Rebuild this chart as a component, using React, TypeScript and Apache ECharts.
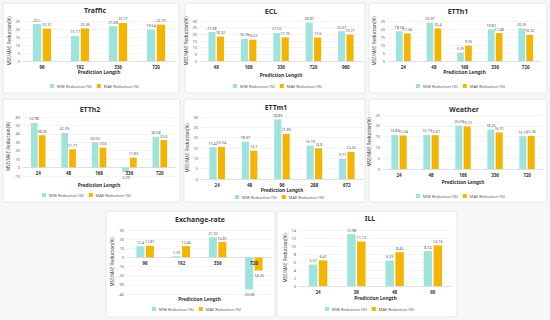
import React, { useEffect, useRef } from 'react';
import * as echarts from 'echarts';

const MSE_NAME = 'MSE Reduction (%)';
const MAE_NAME = 'MAE Reduction (%)';
const X_NAME = 'Prediction Length';
const Y_NAME = 'MSE/MAE Reduction(%)';

const trafficCategories = ['96', '192', '336', '720'];
const trafficMSE = [23.1, 15.77, 21.68, 19.64];
const trafficMAE = [20.31, 20.36, 23.77, 22.73];

const eclCategories = ['48', '168', '336', '720', '960'];
const eclMSE = [21.68, 16.76, 21.02, 28.87, 22.37];
const eclMAE = [18.32, 16.02, 17.75, 17.6, 19.77];

const etth1Categories = ['24', '48', '168', '336', '720'];
const etth1MSE = [18.58, 23.97, 5.25, 19.82, 20.35];
const etth1MAE = [17.24, 20.4, 9.55, 17.48, 16.32];

const etth2Categories = ['24', '48', '168', '336', '720'];
const etth2MSE = [52.98, 41.05, 30.05, -5.29, 36.58];
const etth2MAE = [38.35, 21.71, 23.6, 11.83, 32.6];

const ettm1Categories = ['24', '48', '96', '288', '672'];
const ettm1MSE = [15.42, 18.07, 28.85, 16.19, 9.71];
const ettm1MAE = [15.54, 13.7, 21.83, 14.8, 13.16];

const weatherCategories = ['24', '48', '168', '336', '720'];
const weatherMSE = [15.85, 15.77, 20.09, 18.25, 15.15];
const weatherMAE = [15.54, 15.67, 19.72, 16.91, 15.36];

const exchangeCategories = ['96', '192', '336', '720'];
const exchangeMSE = [12.4, 1.35, 21.92, -35.08];
const exchangeMAE = [12.81, 12.46, 16.81, -14.25];

const illCategories = ['24', '36', '48', '60'];
const illMSE = [5.37, 12.98, 6.33, 8.74];
const illMAE = [6.41, 11.13, 8.46, 10.16];

const MSE_COLOR = '#9fe4dc';
const MAE_COLOR = '#f4b400';
const FONT = 'Noto Sans';

type Panel = {
  title: string;
  cats: string[];
  mse: number[];
  mae: number[];
  yMin: number;
  yMax: number;
  yStep: number;
  card: number[];
  grid: number[];
  titleXY: number[];
  legendXY: number[];
  xNameY: number;
  yNameGap: number;
};

const panels: Panel[] = [
  { title: 'Traffic', cats: trafficCategories, mse: trafficMSE, mae: trafficMAE, yMin: 0, yMax: 25, yStep: 5,
    card: [3, 3, 176, 90], grid: [23, 21, 152, 40], titleXY: [95, 11], legendXY: [50, 84], xNameY: 72, yNameGap: 9 },
  { title: 'ECL', cats: eclCategories, mse: eclMSE, mae: eclMAE, yMin: 0, yMax: 30, yStep: 5,
    card: [185, 3, 180, 90], grid: [200, 21, 162, 40], titleXY: [271, 12], legendXY: [233, 84], xNameY: 75, yNameGap: 8 },
  { title: 'ETTh1', cats: etth1Categories, mse: etth1MSE, mae: etth1MAE, yMin: 0, yMax: 25, yStep: 5,
    card: [369, 3, 178, 90], grid: [388, 21, 153, 40], titleXY: [458, 12], legendXY: [416, 84], xNameY: 72, yNameGap: 9 },
  { title: 'ETTh2', cats: etth2Categories, mse: etth2MSE, mae: etth2MAE, yMin: -10, yMax: 60, yStep: 10,
    card: [3, 99, 177, 103], grid: [23, 117, 152, 59], titleXY: [90, 110], legendXY: [42, 193], xNameY: 185, yNameGap: 9 },
  { title: 'ETTm1', cats: ettm1Categories, mse: ettm1MSE, mae: ettm1MAE, yMin: 0, yMax: 30, yStep: 5,
    card: [184, 99, 181, 103], grid: [201, 117, 162, 62], titleXY: [276, 108], legendXY: [235, 195], xNameY: 190, yNameGap: 8 },
  { title: 'Weather', cats: weatherCategories, mse: weatherMSE, mae: weatherMAE, yMin: 0, yMax: 25, yStep: 5,
    card: [369, 99, 178, 103], grid: [383, 115, 160, 54], titleXY: [464, 110], legendXY: [416, 194], xNameY: 182, yNameGap: 8 },
  { title: 'Exchange-rate', cats: exchangeCategories, mse: exchangeMSE, mae: exchangeMAE, yMin: -40, yMax: 30, yStep: 10,
    card: [106, 211, 169, 106], grid: [127, 230, 145, 64], titleXY: [200, 220], legendXY: [152, 307], xNameY: 299, yNameGap: 10 },
  { title: 'ILL', cats: illCategories, mse: illMSE, mae: illMAE, yMin: 0, yMax: 14, yStep: 2,
    card: [277, 211, 180, 106], grid: [299, 230, 153, 56], titleXY: [370, 219], legendXY: [325, 307], xNameY: 298, yNameGap: 9 },
];

function barData(values: number[]) {
  return values.map((v) => ({ value: v, label: { position: v < 0 ? 'bottom' : 'top', distance: v < 0 ? 3 : 2 } }));
}

function buildOption() {
  const grid: any[] = [];
  const xAxis: any[] = [];
  const yAxis: any[] = [];
  const series: any[] = [];
  const title: any[] = [];
  const legend: any[] = [];
  const cards: any[] = [];

  panels.forEach((p, i) => {
    cards.push({
      type: 'rect',
      shape: { x: p.card[0], y: p.card[1], width: p.card[2], height: p.card[3], r: 2 },
      style: { fill: '#ffffff', stroke: '#e2e2e2', lineWidth: 0.8 },
      z: -10,
    });
    grid.push({ left: p.grid[0], top: p.grid[1], width: p.grid[2], height: p.grid[3], containLabel: false });
    // place the category axis at the zero line of the value axis
    const zeroOffset = p.yMin < 0 ? -(p.grid[3] * (0 - p.yMin)) / (p.yMax - p.yMin) : 0;
    xAxis.push({
      type: 'category', gridIndex: i, data: p.cats, position: 'bottom', offset: zeroOffset,
      axisLine: { onZero: false, lineStyle: { color: '#d0d0d0', width: 0.6 } },
      axisTick: { show: false },
      axisLabel: { fontSize: 4.5, fontWeight: 'bold', color: '#333', margin: 3, fontFamily: FONT },
      z: 5,
    });
    yAxis.push({
      type: 'value', gridIndex: i, min: p.yMin, max: p.yMax, interval: p.yStep,
      axisLine: { show: false }, axisTick: { show: false },
      axisLabel: { fontSize: 4, color: '#666', margin: 3, fontFamily: FONT },
      splitLine: { lineStyle: { color: '#ececec', width: 0.6 } },
      name: Y_NAME, nameLocation: 'middle', nameGap: p.yNameGap,
      nameTextStyle: { fontSize: 4.5, color: '#444', fontFamily: FONT },
    });
    const labelCfg = { show: true, fontSize: 3.7, color: '#555', fontFamily: FONT };
    series.push({
      type: 'bar', name: MSE_NAME, xAxisIndex: i, yAxisIndex: i,
      data: barData(p.mse), barWidth: '22%', barGap: '18%',
      itemStyle: { color: MSE_COLOR }, label: labelCfg,
    });
    series.push({
      type: 'bar', name: MAE_NAME, xAxisIndex: i, yAxisIndex: i,
      data: barData(p.mae), barWidth: '22%', barGap: '18%',
      itemStyle: { color: MAE_COLOR }, label: labelCfg,
    });
    title.push({
      text: p.title, left: p.titleXY[0], top: p.titleXY[1] - 4, textAlign: 'center',
      textStyle: { fontSize: 7, fontWeight: 'bold', color: '#333', fontFamily: FONT },
      padding: 0,
    });
    title.push({
      text: X_NAME, left: p.grid[0] + p.grid[2] / 2, top: p.xNameY - 3, textAlign: 'center',
      textStyle: { fontSize: 4.8, fontWeight: 'bold', color: '#333', fontFamily: FONT },
      padding: 0,
    });
    legend.push({
      data: [MSE_NAME, MAE_NAME], left: p.legendXY[0], top: p.legendXY[1], padding: 0,
      icon: 'rect', itemWidth: 4, itemHeight: 4, itemGap: 5,
      textStyle: { fontSize: 4, color: '#555', fontFamily: FONT, padding: [0, 0, 0, -2] },
    });
  });

  return {
    animation: false,
    backgroundColor: '#f7f7f7',
    textStyle: { fontFamily: FONT },
    graphic: cards,
    title, legend, grid, xAxis, yAxis, series,
  };
}

export default function App() {
  const ref = useRef<HTMLDivElement>(null);
  useEffect(() => {
    if (!ref.current) return;
    const chart = echarts.init(ref.current, undefined, { renderer: 'svg' });
    chart.setOption(buildOption() as any);
    return () => chart.dispose();
  }, []);
  return (
    <div
      ref={ref}
      style={{ position: 'fixed', left: 0, top: 0, width: 550, height: 320 }}
    />
  );
}
